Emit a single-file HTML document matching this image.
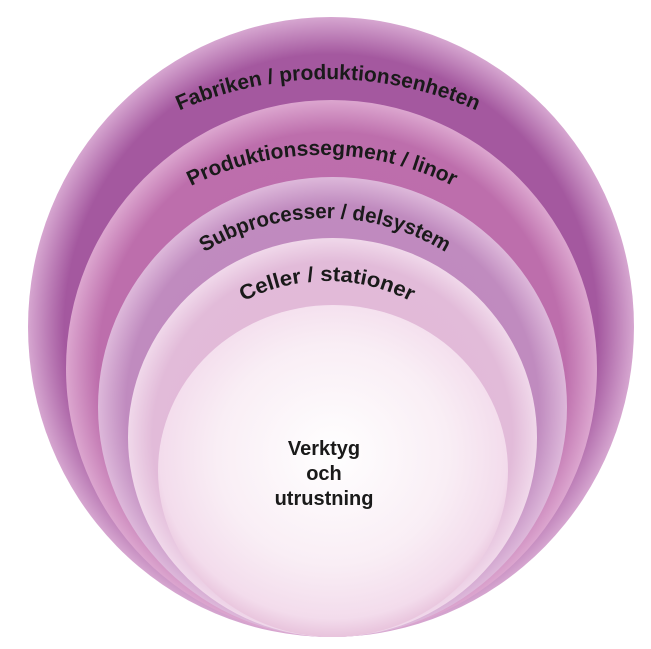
<!DOCTYPE html>
<html><head><meta charset="utf-8"><style>
html,body{margin:0;padding:0;background:#fff;width:651px;height:649px;overflow:hidden}
text{font-family:"Liberation Sans",sans-serif;font-weight:bold;fill:#1a1a1a}
</style></head><body>
<svg width="651" height="649" viewBox="0 0 651 649" xmlns="http://www.w3.org/2000/svg">
<defs>
<radialGradient id="g1" cx="50%" cy="50%" r="50%"><stop offset="0" stop-color="#a4589f"/><stop offset="0.88" stop-color="#a4589f"/><stop offset="1" stop-color="#d6a6d0"/></radialGradient>
<radialGradient id="g2" cx="50%" cy="50%" r="50%"><stop offset="0" stop-color="#bd6aab"/><stop offset="0.88" stop-color="#bd6eac"/><stop offset="1" stop-color="#dca6cf"/></radialGradient>
<radialGradient id="g3" cx="50%" cy="50%" r="50%"><stop offset="0" stop-color="#bd86bd"/><stop offset="0.88" stop-color="#c08bbf"/><stop offset="1" stop-color="#ddb8da"/></radialGradient>
<radialGradient id="g4" cx="50%" cy="50%" r="50%"><stop offset="0" stop-color="#e0b6d6"/><stop offset="0.88" stop-color="#e2bbd9"/><stop offset="1" stop-color="#f0d8ea"/></radialGradient>
<radialGradient id="g5" cx="50%" cy="45%" r="55%"><stop offset="0" stop-color="#ffffff"/><stop offset="0.6" stop-color="#f9eef5"/><stop offset="0.9" stop-color="#f3dcec"/><stop offset="1" stop-color="#e8c3dc"/></radialGradient>
<path id="p1" d="M-39,446 A367,367 0 0 1 695,446"/>
<path id="p2" d="M30,447 A292,292 0 0 1 614,447"/>
<path id="p3" d="M95,448 A230,230 0 0 1 555,448"/>
<path id="p4" d="M145,463 A182,182 0 0 1 509,463"/>
</defs>
<ellipse cx="331" cy="327" rx="303" ry="310" fill="url(#g1)"/>
<ellipse cx="331.5" cy="368.5" rx="265.5" ry="268.5" fill="url(#g2)"/>
<ellipse cx="332.5" cy="407" rx="234.5" ry="230" fill="url(#g3)"/>
<ellipse cx="332.5" cy="437.5" rx="204.5" ry="199.5" fill="url(#g4)"/>
<ellipse cx="333" cy="471" rx="175" ry="166" fill="url(#g5)"/>
<text font-size="21"><textPath href="#p1" startOffset="50%" text-anchor="middle" textLength="306" lengthAdjust="spacingAndGlyphs">Fabriken / produktionsenheten</textPath></text>
<text font-size="21"><textPath href="#p2" startOffset="50%" text-anchor="middle" textLength="272" lengthAdjust="spacingAndGlyphs">Produktionssegment / linor</textPath></text>
<text font-size="21"><textPath href="#p3" startOffset="50%" text-anchor="middle" textLength="254" lengthAdjust="spacingAndGlyphs">Subprocesser / delsystem</textPath></text>
<text font-size="21"><textPath href="#p4" startOffset="50%" text-anchor="middle" textLength="174" lengthAdjust="spacingAndGlyphs">Celler / stationer</textPath></text>
<text font-size="20" x="324" y="455" text-anchor="middle">Verktyg</text>
<text font-size="20" x="324" y="480" text-anchor="middle">och</text>
<text font-size="20" x="324" y="505" text-anchor="middle">utrustning</text>
</svg>
</body></html>
